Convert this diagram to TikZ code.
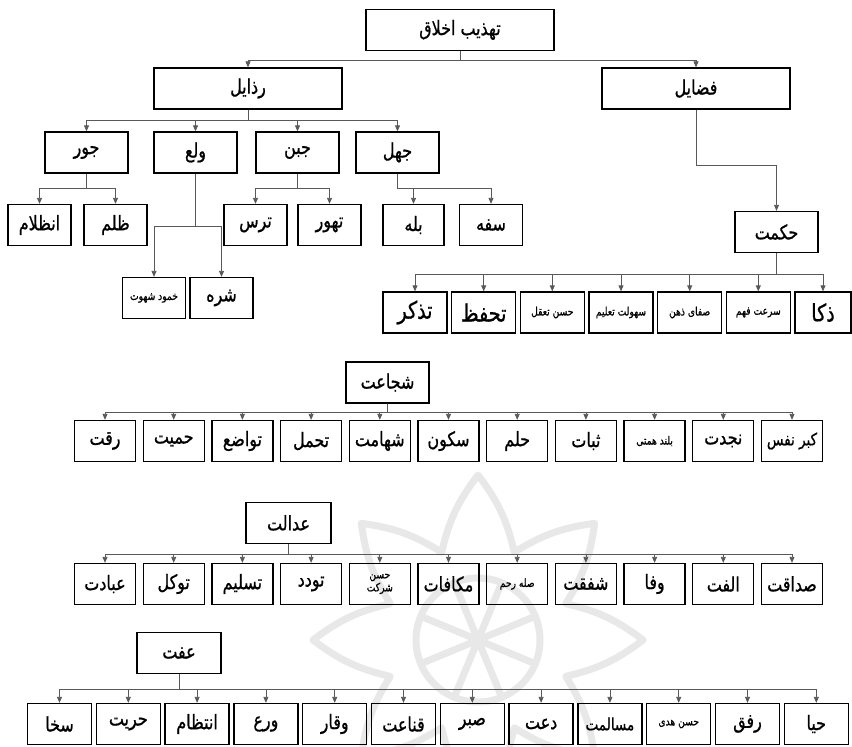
\documentclass[tikz,border=0pt]{standalone}
\usepackage{fontspec}
\usetikzlibrary{arrows.meta}
\TeXXeTstate=1
\newfontfamily\fafont[Script=Arabic,FakeStretch=0.8,FakeBold=0.8]{DejaVu Sans}
\newcommand{\fatxt}[1]{\fafont\beginR #1\endR}

\begin{document}
\begin{tikzpicture}[x=1bp,y=-1bp,
    box/.style={draw,line width=1.3bp,inner sep=0pt,minimum height=41bp,
      minimum width=63bp,font=\fontsize{20}{22}\selectfont},
    fsmall/.style={font=\fontsize{11.5}{13}\selectfont},
    fmid/.style={font=\fontsize{17}{19}\selectfont},
    flarge/.style={font=\fontsize{24}{26}\selectfont},
    arr/.style={draw=black!65,line width=0.8bp,-{Triangle[length=6bp,width=5bp]}},
    wmark/.style={draw=black!9,line width=7bp,line join=round}]
  \useasboundingbox[fill=white] (0,0) rectangle (852,747);

  % faint watermark behind the lower rows
  \begin{scope}[shift={(478,640)}]
    \draw[wmark] (90:165) to[bend left=12] (112.5:95) to[bend left=12] (135:165)
      to[bend left=12] (157.5:95) to[bend left=12] (180:165)
      to[bend left=12] (202.5:95) to[bend left=12] (225:165)
      to[bend left=12] (247.5:95) to[bend left=12] (270:165)
      to[bend left=12] (292.5:95) to[bend left=12] (315:165)
      to[bend left=12] (337.5:95) to[bend left=12] (0:165)
      to[bend left=12] (22.5:95) to[bend left=12] (45:165)
      to[bend left=12] (67.5:95) to[bend left=12] cycle;
    \draw[wmark] (0,0) circle (62);
    \draw[wmark] (22.5:62) -- (202.5:62) (67.5:62) -- (247.5:62)
      (112.5:62) -- (292.5:62) (157.5:62) -- (337.5:62);
  \end{scope}

  % bus lines
  \coordinate (b0) at (0,60);
  \coordinate (b1) at (0,120);
  \coordinate (b2) at (0,188.5);
  \coordinate (b3) at (0,226);
  \coordinate (b4) at (0,165);
  \coordinate (b5) at (0,274);
  \coordinate (b6) at (0,412);
  \coordinate (b7) at (0,554);
  \coordinate (b8) at (0,689);

  % top of the tree
  \node[box,minimum width=188bp] (tahzib) at (460,30) {\fatxt{تهذیب اخلاق}};
  \node[box,minimum width=188bp] (razail) at (248,88.5) {\fatxt{رذایل}};
  \node[box,minimum width=188bp] (fazail) at (696,88.5) {\fatxt{فضایل}};

  \node[box,minimum width=83bp] (jor) at (86.5,152.5) {\fatxt{جور}};
  \node[box,minimum width=83bp] (vala) at (195.5,152.5) {\fatxt{ولع}};
  \node[box,minimum width=83bp] (jobn) at (297.5,152.5) {\fatxt{جبن}};
  \node[box,minimum width=83bp] (jahl) at (397.5,152.5) {\fatxt{جهل}};

  \node[box] (enzelam) at (39.5,225) {\fatxt{انظلام}};
  \node[box] (zolm) at (115.5,225) {\fatxt{ظلم}};
  \node[box] (tars) at (255.5,225) {\fatxt{ترس}};
  \node[box] (tahavor) at (329.5,225) {\fatxt{تهور}};
  \node[box,minimum width=61bp] (boleh) at (413.5,225) {\fatxt{بله}};
  \node[box] (safah) at (491,225) {\fatxt{سفه}};
  \node[box,fsmall] (khomud) at (154,298) {\fatxt{خمود شهوت}};
  \node[box] (shareh) at (221.5,298) {\fatxt{شره}};

  \node[box,minimum width=83bp] (hekmat) at (776.5,232) {\fatxt{حکمت}};
  \node[box,minimum width=64bp,flarge] (h0) at (415,312.5) {\fatxt{تذکر}};
  \node[box,minimum width=64bp,flarge] (h1) at (483.7,312.5) {\fatxt{تحفظ}};
  \node[box,minimum width=64bp,fsmall] (h2) at (552.3,312.5) {\fatxt{حسن تعقل}};
  \node[box,minimum width=64bp,fsmall] (h3) at (621,312.5) {\fatxt{سهولت تعلیم}};
  \node[box,minimum width=64bp,fsmall] (h4) at (689.7,312.5) {\fatxt{صفای ذهن}};
  \node[box,minimum width=64bp,fsmall] (h5) at (758.3,312.5) {\fatxt{سرعت فهم}};
  \node[box,minimum width=56bp,flarge] (h6) at (823,312.5) {\fatxt{ذکا}};

  % shojaat
  \node[box,minimum width=83bp] (shojaat) at (387.5,382.5) {\fatxt{شجاعت}};
  \node[box,minimum width=61bp] (s0) at (105,441) {\fatxt{رقت}};
  \node[box,minimum width=61bp] (s1) at (173.7,441) {\fatxt{حمیت}};
  \node[box,minimum width=61bp] (s2) at (242.4,441) {\fatxt{تواضع}};
  \node[box,minimum width=61bp] (s3) at (311.1,441) {\fatxt{تحمل}};
  \node[box,minimum width=61bp] (s4) at (379.8,441) {\fatxt{شهامت}};
  \node[box,minimum width=61bp] (s5) at (448.5,441) {\fatxt{سکون}};
  \node[box,minimum width=61bp] (s6) at (517.2,441) {\fatxt{حلم}};
  \node[box,minimum width=61bp] (s7) at (585.9,441) {\fatxt{ثبات}};
  \node[box,minimum width=61bp,fsmall] (s8) at (654.6,441) {\fatxt{بلند همتی}};
  \node[box,minimum width=61bp] (s9) at (723.3,441) {\fatxt{نجدت}};
  \node[box,minimum width=61bp,fmid] (s10) at (792,441) {\fatxt{کبر نفس}};

  % edalat
  \node[box,minimum width=85bp] (edalat) at (288.5,523) {\fatxt{عدالت}};
  \node[box,minimum width=61bp] (e0) at (105,584) {\fatxt{عبادت}};
  \node[box,minimum width=61bp] (e1) at (173.7,584) {\fatxt{توکل}};
  \node[box,minimum width=61bp] (e2) at (242.4,584) {\fatxt{تسلیم}};
  \node[box,minimum width=61bp] (e3) at (311.1,584) {\fatxt{تودد}};
  \node[box,minimum width=61bp,fsmall,align=center] (e4) at (379.8,584) {\fatxt{حسن}\\\fatxt{شرکت}};
  \node[box,minimum width=61bp] (e5) at (448.5,584) {\fatxt{مکافات}};
  \node[box,minimum width=61bp,fsmall] (e6) at (517.2,584) {\fatxt{صله رحم}};
  \node[box,minimum width=61bp] (e7) at (585.9,584) {\fatxt{شفقت}};
  \node[box,minimum width=61bp] (e8) at (654.6,584) {\fatxt{وفا}};
  \node[box,minimum width=61bp] (e9) at (723.3,584) {\fatxt{الفت}};
  \node[box,minimum width=61bp] (e10) at (792,584) {\fatxt{صداقت}};

  % effat
  \node[box,minimum width=84bp] (effat) at (179,653) {\fatxt{عفت}};
  \node[box,minimum width=64bp] (f0) at (59.5,724) {\fatxt{سخا}};
  \node[box,minimum width=64bp] (f1) at (128.3,724) {\fatxt{حریت}};
  \node[box,minimum width=64bp] (f2) at (197.1,724) {\fatxt{انتظام}};
  \node[box,minimum width=64bp] (f3) at (265.9,724) {\fatxt{ورع}};
  \node[box,minimum width=64bp] (f4) at (334.7,724) {\fatxt{وقار}};
  \node[box,minimum width=64bp] (f5) at (403.5,724) {\fatxt{قناعت}};
  \node[box,minimum width=64bp] (f6) at (472.3,724) {\fatxt{صبر}};
  \node[box,minimum width=64bp] (f7) at (541.1,724) {\fatxt{دعت}};
  \node[box,minimum width=64bp,fmid] (f8) at (609.9,724) {\fatxt{مسالمت}};
  \node[box,minimum width=64bp,fsmall] (f9) at (678.7,724) {\fatxt{حسن هدی}};
  \node[box,minimum width=64bp] (f10) at (747.5,724) {\fatxt{رفق}};
  \node[box,minimum width=64bp] (f11) at (816.3,724) {\fatxt{حیا}};

  \begin{scope}[arr]
    \draw (tahzib.south) -- (tahzib.south |- b0) -| (razail.north);
    \draw (tahzib.south) -- (tahzib.south |- b0) -| (fazail.north);
    \draw (razail.south) -- (razail.south |- b1) -| (jor.north);
    \draw (razail.south) -- (razail.south |- b1) -| (vala.north);
    \draw (razail.south) -- (razail.south |- b1) -| (jobn.north);
    \draw (razail.south) -- (razail.south |- b1) -| (jahl.north);
    \draw (jor.south) -- (jor.south |- b2) -| (enzelam.north);
    \draw (jor.south) -- (jor.south |- b2) -| (zolm.north);
    \draw (jobn.south) -- (jobn.south |- b2) -| (tars.north);
    \draw (jobn.south) -- (jobn.south |- b2) -| (tahavor.north);
    \draw (jahl.south) -- (jahl.south |- b2) -| (boleh.north);
    \draw (jahl.south) -- (jahl.south |- b2) -| (safah.north);
    \draw (vala.south) -- (vala.south |- b3) -| (khomud.north);
    \draw (vala.south) -- (vala.south |- b3) -| (shareh.north);
    \draw (fazail.south) -- (fazail.south |- b4) -| (hekmat.north);
    \draw (hekmat.south) -- (hekmat.south |- b5) -| (h0.north);
    \draw (hekmat.south) -- (hekmat.south |- b5) -| (h1.north);
    \draw (hekmat.south) -- (hekmat.south |- b5) -| (h2.north);
    \draw (hekmat.south) -- (hekmat.south |- b5) -| (h3.north);
    \draw (hekmat.south) -- (hekmat.south |- b5) -| (h4.north);
    \draw (hekmat.south) -- (hekmat.south |- b5) -| (h5.north);
    \draw (hekmat.south) -- (hekmat.south |- b5) -| (h6.north);
    \draw (shojaat.south) -- (shojaat.south |- b6) -| (s0.north);
    \draw (shojaat.south) -- (shojaat.south |- b6) -| (s1.north);
    \draw (shojaat.south) -- (shojaat.south |- b6) -| (s2.north);
    \draw (shojaat.south) -- (shojaat.south |- b6) -| (s3.north);
    \draw (shojaat.south) -- (shojaat.south |- b6) -| (s4.north);
    \draw (shojaat.south) -- (shojaat.south |- b6) -| (s5.north);
    \draw (shojaat.south) -- (shojaat.south |- b6) -| (s6.north);
    \draw (shojaat.south) -- (shojaat.south |- b6) -| (s7.north);
    \draw (shojaat.south) -- (shojaat.south |- b6) -| (s8.north);
    \draw (shojaat.south) -- (shojaat.south |- b6) -| (s9.north);
    \draw (shojaat.south) -- (shojaat.south |- b6) -| (s10.north);
    \draw (edalat.south) -- (edalat.south |- b7) -| (e0.north);
    \draw (edalat.south) -- (edalat.south |- b7) -| (e1.north);
    \draw (edalat.south) -- (edalat.south |- b7) -| (e2.north);
    \draw (edalat.south) -- (edalat.south |- b7) -| (e3.north);
    \draw (edalat.south) -- (edalat.south |- b7) -| (e4.north);
    \draw (edalat.south) -- (edalat.south |- b7) -| (e5.north);
    \draw (edalat.south) -- (edalat.south |- b7) -| (e6.north);
    \draw (edalat.south) -- (edalat.south |- b7) -| (e7.north);
    \draw (edalat.south) -- (edalat.south |- b7) -| (e8.north);
    \draw (edalat.south) -- (edalat.south |- b7) -| (e9.north);
    \draw (edalat.south) -- (edalat.south |- b7) -| (e10.north);
    \draw (effat.south) -- (effat.south |- b8) -| (f0.north);
    \draw (effat.south) -- (effat.south |- b8) -| (f1.north);
    \draw (effat.south) -- (effat.south |- b8) -| (f2.north);
    \draw (effat.south) -- (effat.south |- b8) -| (f3.north);
    \draw (effat.south) -- (effat.south |- b8) -| (f4.north);
    \draw (effat.south) -- (effat.south |- b8) -| (f5.north);
    \draw (effat.south) -- (effat.south |- b8) -| (f6.north);
    \draw (effat.south) -- (effat.south |- b8) -| (f7.north);
    \draw (effat.south) -- (effat.south |- b8) -| (f8.north);
    \draw (effat.south) -- (effat.south |- b8) -| (f9.north);
    \draw (effat.south) -- (effat.south |- b8) -| (f10.north);
    \draw (effat.south) -- (effat.south |- b8) -| (f11.north);
  \end{scope}
\end{tikzpicture}
\end{document}
